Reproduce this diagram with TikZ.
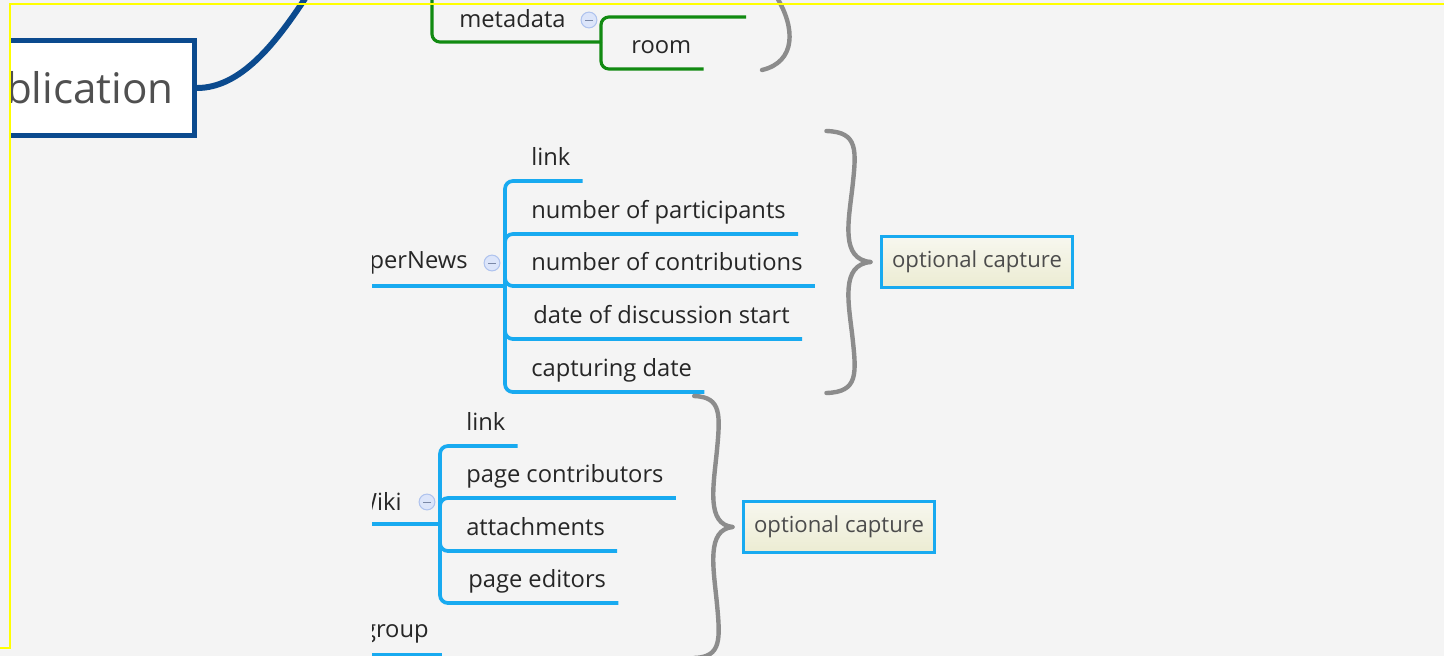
\documentclass[tikz,border=0pt]{standalone}
\usepackage{fontspec}
\setmainfont{Open Sans}
\usetikzlibrary{positioning}
\definecolor{MapPaper}{HTML}{F4F4F4}
\definecolor{MapFrame}{HTML}{FFFF00}
\definecolor{MapRoot}{HTML}{0B4A8E}
\definecolor{MapBranch}{HTML}{18AAF0}
\definecolor{MapGreen}{HTML}{118A11}
\definecolor{MapBrace}{HTML}{8C8C8C}
\definecolor{MapInk}{HTML}{262626}
\definecolor{MapRootInk}{HTML}{505050}
\definecolor{MapNoteInk}{HTML}{4C4C4C}
\definecolor{MapNoteTop}{HTML}{F7F7EF}
\definecolor{MapNoteBottom}{HTML}{ECECD2}
\definecolor{MapFoldFill}{HTML}{DCE5FA}
\definecolor{MapFoldRim}{HTML}{AFC3EE}
\tikzset{
  every node/.style={text=MapInk},
  topic/.style={font=\fontsize{13.5}{16}\selectfont, inner sep=0pt, anchor=base east},
  leaf/.style={font=\fontsize{13.5}{16}\selectfont, inner xsep=6.8pt, inner ysep=8.5pt, text depth=0pt, anchor=south west},
  rootbox/.style={draw=MapRoot, line width=2.6pt, fill=white, text=MapRootInk, font=\fontsize{24}{27}\selectfont,
    inner xsep=12pt, minimum height=54pt, anchor=east},
  rootline/.style={draw=MapRoot, line width=3.4pt},
  branch/.style={draw=MapBranch, line width=2.1pt, rounded corners=4.5pt},
  greenbranch/.style={draw=MapGreen, line width=1.8pt, rounded corners=4.5pt},
  fold/.style={circle, draw=MapFoldRim, fill=MapFoldFill, line width=0.6pt, minimum size=9pt, inner sep=0pt,
    path picture={\draw[MapFoldRim!70!black, line width=0.5pt]
      ([xshift=-2.2pt]path picture bounding box.center) -- ([xshift=2.2pt]path picture bounding box.center);}},
  capbox/.style={draw=MapBranch, line width=1.7pt, top color=MapNoteTop, bottom color=MapNoteBottom,
    text=MapNoteInk, font=\fontsize{12.6}{15}\selectfont, minimum width=108.8pt, minimum height=29.5pt, inner sep=0pt},
  bracepen/.style={draw=MapBrace, line width=2.5pt, line cap=round},
  framepen/.style={draw=MapFrame, line width=1.2pt},
  capbrace/.pic={
    \draw[bracepen] (0,0) .. controls (-30,-3) and (-22,-40) .. (-18,-75)
      .. controls (-14,-112) and (-12,-130) .. (-44,-131);
    \draw[bracepen] (0,0) .. controls (-30,3) and (-22,40) .. (-18,75)
      .. controls (-14,112) and (-12,130) .. (-44,131);
  },
}

\begin{document}
\begin{tikzpicture}[x=0.02cm,y=-0.02cm]
  \useasboundingbox (0,0) rectangle (1444,656);
  \fill[MapPaper] (0,0) rectangle (1444,656);
  \begin{scope}
    \clip (10,0) rectangle (1444,656);
    % root topic and its curve going up
    \node[rootbox] (pub) at (197,88) {blication};
    \coordinate (pubup) at (308,-6);
    \draw[rootline] (pub.east) .. controls (240,88) and (275,45) .. (pubup);
    % green branch: metadata, room
    \coordinate (mdtop) at (432,-10);
    \coordinate (mdfork) at (601,42);
    \coordinate (mdsib) at (746,17);
    \node[topic, anchor=base west] (md) at (459,27) {metadata};
    \node[fold] (mdfold) at (589,20) {};
    \node[leaf] (room) at (619,69) {room};
    \draw[greenbranch] (mdtop) |- (mdfork);
    \draw[greenbranch] (mdfork) |- (mdsib);
    \draw[greenbranch] (mdfork) |- (room.south east);
    \draw[bracepen] (776,-4) .. controls (796,28) and (796,62) .. (762,70);
    \begin{scope}
      \clip (372,100) rectangle (1444,660);
      % HyperNews branch
      \coordinate (hnfork) at (505,286);
      \node[topic] (hn) at (468,268) {perNews};
      \node[fold] (hnfold) at (492,263) {};
      \node[leaf] (hnlink) at (519,181) {link};
      \node[leaf] (hnpart) at (519,234) {number of participants};
      \node[leaf] (hncontrib) at (519,286) {number of contributions};
      \node[leaf] (hnstart) at (521,339) {date of discussion start};
      \node[leaf] (hndate) at (519,392) {capturing date};
      \draw[branch] (hn.west |- hnfork) -- (hnfork);
      \foreach \leaf in {hnlink,hnpart,hncontrib,hnstart,hndate}
        \draw[branch] (hnfork) |- (\leaf.south east);
      \node[capbox] (hncap) at (977,262) {optional capture};
      \pic at ([xshift=-5.4pt]hncap.west) {capbrace};
      % Wiki branch
      \coordinate (wkfork) at (440,524);
      \node[topic] (wk) at (402,510) {Wiki};
      \node[fold] (wkfold) at (427,502) {};
      \node[leaf] (wklink) at (454,446) {link};
      \node[leaf] (wkcontrib) at (454,498) {page contributors};
      \node[leaf] (wkattach) at (454,551) {attachments};
      \node[leaf] (wkedit) at (456,603) {page editors};
      \draw[branch] (wk.west |- wkfork) -- (wkfork);
      \foreach \leaf in {wklink,wkcontrib,wkattach,wkedit}
        \draw[branch] (wkfork) |- (\leaf.south east);
      \node[capbox] (wkcap) at (839,527) {optional capture};
      \pic[xscale=0.87] at ([xshift=-5.4pt]wkcap.west) {capbrace};
      % group branch, cut off at the bottom
      \coordinate (grpend) at (442,655);
      \node[topic] (grp) at (429,637) {group};
      \draw[branch] (grp.west |- grpend) -- (grpend);
    \end{scope}
  \end{scope}
  % yellow frame
  \draw[framepen] (1450,4) -- (10,4) -- (10,648) -- (-6,648);
\end{tikzpicture}
\end{document}
